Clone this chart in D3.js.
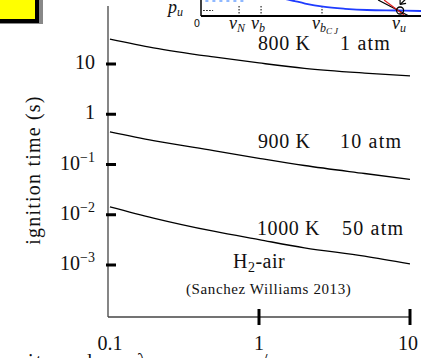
<!DOCTYPE html>
<html><head><meta charset="utf-8">
<script src="https://cdn.jsdelivr.net/npm/d3@7/dist/d3.min.js"></script>
<style>
html,body{margin:0;padding:0;background:#fff;overflow:hidden}
svg{display:block}
text{font-family:"Liberation Serif","DejaVu Serif",serif;fill:#111}
</style></head>
<body>
<script>
// ---------- data ----------
const pressureRatio = [0.103, 0.2, 0.5, 1, 2, 5, 10];
const tau800K = [31.4, 21.0, 13.8, 10.5, 8.2, 6.6, 5.8];
const tau900K = [0.448, 0.299, 0.189, 0.133, 0.0955, 0.0662, 0.0507];
const tau1000K = [0.0144, 0.0086, 0.0047, 0.0032, 0.0022, 0.0015, 0.00105];
const seriesTemps = ["800 K", "900 K", "1000 K"];
const seriesPress = ["1 atm", "10 atm", "50 atm"];
const xTicks = [0.1, 1, 10];
const xTickLabels = ["0.1", "1", "10"];
const yTicks = [10, 1, 0.1, 0.01, 0.001];
const yTickBase = ["10", "1", "10", "10", "10"];
const yTickExp = ["", "", "\u22121", "\u22122", "\u22123"];

// inset (Hugoniot schematic) data
const hugV = [0.359, 0.405, 0.473, 0.555, 0.655, 0.755, 0.905, 1.0];
const hugP = [3.27, 2.91, 2.27, 1.69, 1.31, 1.09, 1.0, 0.91];
const markV = [0.173, 0.273, 0.55];
const markNames = [["N",""], ["b",""], ["b","CJ"]];
const stateU = {v: 0.905, p: 1.0};

const W = 421, H = 358;
const svg = d3.select("body").append("svg").attr("width", W).attr("height", H);

// ---------- scales ----------
const x = d3.scaleLog().domain([0.1, 10]).range([108, 410]);
const y = d3.scaleLog().domain([0.001, 10]).range([265, 64]);
const axisTop = 6, axisBottom = 317;

// ---------- yellow box (top-left) ----------
svg.append("rect").attr("x", -10).attr("y", -10).attr("width", 53).attr("height", 34).attr("fill", "#888");
svg.append("rect").attr("x", -10).attr("y", -10).attr("width", 47).attr("height", 31)
  .attr("fill", "#ffff00").attr("stroke", "#000").attr("stroke-width", 4);

// ---------- inset ----------
const ix = d3.scaleLinear().domain([0, 1]).range([201, 421]);
const ip = d3.scaleLinear().domain([0, 1]).range([16, 10.5]);
const inset = svg.append("g");
inset.append("line").attr("x1", ix(0.02)).attr("x2", ix(0.2)).attr("y1", ip(2.73)).attr("y2", ip(2.73))
  .attr("stroke", "#8fb8ff").attr("stroke-width", 2).attr("stroke-dasharray", "3,4");
inset.append("line").attr("x1", ix(0.01)).attr("x2", ix(0.055)).attr("y1", ip(1)).attr("y2", ip(1))
  .attr("stroke", "#000").attr("stroke-width", 1).attr("stroke-dasharray", "1.5,1.5");
markV.forEach(v => {
  inset.append("line").attr("x1", ix(v)).attr("x2", ix(v)).attr("y1", ip(1.82)).attr("y2", ip(0))
    .attr("stroke", "#000").attr("stroke-width", 1).attr("stroke-dasharray", "1.5,1.5");
});
inset.append("path").datum(hugV.map((v, i) => [v, hugP[i]]))
  .attr("d", d3.line().x(d => ix(d[0])).y(d => ip(d[1])).curve(d3.curveMonotoneX))
  .attr("fill", "none").attr("stroke", "#1f3cff").attr("stroke-width", 1.8);
inset.append("line").attr("x1", ix(0.805)).attr("y1", ip(2.91)).attr("x2", ix(0.945)).attr("y2", ip(0))
  .attr("stroke", "#000").attr("stroke-width", 1.2);
inset.append("line").attr("x1", ix(0.832)).attr("y1", ip(2.91)).attr("x2", ix(0.923)).attr("y2", ip(0.18))
  .attr("stroke", "#e02020").attr("stroke-width", 1.2);
inset.append("line").attr("x1", ix(0.955)).attr("y1", ip(4.0)).attr("x2", ix(0.905)).attr("y2", ip(2.1))
  .attr("stroke", "#000").attr("stroke-width", 1.2);
inset.append("path").attr("d", `M${ix(0.905)},${ip(2.1)} l6,-1 M${ix(0.905)},${ip(2.1)} l0,-6`)
  .attr("stroke", "#000").attr("stroke-width", 1.2).attr("fill", "none");
inset.append("circle").attr("cx", ix(stateU.v)).attr("cy", ip(stateU.p)).attr("r", 3.5)
  .attr("fill", "none").attr("stroke", "#000").attr("stroke-width", 1.3);
inset.append("line").attr("x1", ix(0)).attr("x2", ix(0)).attr("y1", -2).attr("y2", ip(0)).attr("stroke", "#000").attr("stroke-width", 1.5);
inset.append("line").attr("x1", ix(0)).attr("x2", W + 2).attr("y1", ip(0)).attr("y2", ip(0)).attr("stroke", "#000").attr("stroke-width", 2);
inset.append("text").attr("x", ix(0) - 4).attr("y", 27).attr("text-anchor", "middle")
  .style("font-family", "'DejaVu Sans',sans-serif").style("font-size", "10px").text("0");
const pu = inset.append("text").attr("x", 168).attr("y", 13).style("font-style", "italic").style("font-size", "18px");
pu.append("tspan").text("p");
pu.append("tspan").attr("dy", 3).style("font-size", "12px").text("u");
markV.forEach((v, i) => {
  const t = inset.append("text").attr("x", ix(v) - 10).attr("y", 29).style("font-style", "italic").style("font-size", "18px");
  t.append("tspan").text("v");
  t.append("tspan").attr("dy", 3).style("font-size", "12px").text(markNames[i][0]);
  if (markNames[i][1]) t.append("tspan").attr("dy", 2).style("font-size", "9px").attr("letter-spacing", 2).text(markNames[i][1]);
});
const vu = inset.append("text").attr("x", ix(stateU.v) - 8).attr("y", 29).style("font-style", "italic").style("font-size", "18px");
vu.append("tspan").text("v");
vu.append("tspan").attr("dy", 3).style("font-size", "12px").text("u");

// ---------- axes ----------
const g = svg.append("g");
g.append("line").attr("x1", x(0.1)).attr("x2", x(0.1)).attr("y1", axisTop).attr("y2", axisBottom)
  .attr("stroke", "#444").attr("stroke-width", 1.3);
g.append("line").attr("x1", x(0.1)).attr("x2", x(10)).attr("y1", axisBottom).attr("y2", axisBottom)
  .attr("stroke", "#444").attr("stroke-width", 1.3);

yTicks.forEach((v, i) => {
  g.append("line").attr("x1", x(0.1) - 2).attr("x2", x(0.1) + 8).attr("y1", y(v)).attr("y2", y(v))
    .attr("stroke", "#000").attr("stroke-width", 3);
  const t = g.append("text").attr("x", 95).attr("y", y(v) + 5).attr("text-anchor", "end")
    .style("font-size", "20px");
  t.append("tspan").text(yTickBase[i]);
  if (yTickExp[i]) t.append("tspan").attr("dy", -8).style("font-size", "14px").text(yTickExp[i]);
});
xTicks.forEach((v, i) => {
  if (i > 0) g.append("line").attr("x1", x(v)).attr("x2", x(v)).attr("y1", axisBottom - 8).attr("y2", axisBottom + 8)
    .attr("stroke", "#000").attr("stroke-width", 3);
  g.append("text").attr("x", x(v) + (i === 0 ? 2 : (i === 2 ? -2 : 0))).attr("y", 350).attr("text-anchor", "middle")
    .style("font-size", "20px").text(xTickLabels[i]);
});

g.append("text").attr("transform", "translate(40,170) rotate(-90)").attr("text-anchor", "middle")
  .style("font-size", "20px").attr("letter-spacing", 1.2).text("ignition time (s)");

// clipped x axis title fragments at the very bottom
const frag = g.append("text").attr("y", 368).style("font-size", "20px");
[["i", 28], ["t", 36], ["d", 82], ["\u03bb", 137], ["/", 262]].forEach(f => {
  frag.append("tspan").attr("x", f[1]).text(f[0]);
});

// ---------- curves ----------
const line = d3.line().x(d => x(d[0])).y(d => y(d[1])).curve(d3.curveMonotoneX);
[tau800K, tau900K, tau1000K].forEach(s => {
  g.append("path").datum(pressureRatio.map((p, i) => [p, s[i]]))
    .attr("d", line).attr("fill", "none").attr("stroke", "#000").attr("stroke-width", 1.3);
});

// ---------- labels ----------
const labY = [50, 148, 235];
const labX1 = [258, 258, 257];
const labX2 = [340, 340, 342];
seriesTemps.forEach((s, i) => {
  g.append("text").attr("x", labX1[i]).attr("y", labY[i]).style("font-size", "20px").attr("letter-spacing", 0.6).text(s);
  g.append("text").attr("x", labX2[i]).attr("y", labY[i]).style("font-size", "20px").attr("letter-spacing", 1.2).text(seriesPress[i]);
});
const h2 = g.append("text").attr("x", 233).attr("y", 268).style("font-size", "20px").attr("letter-spacing", 0.5);
h2.append("tspan").text("H");
h2.append("tspan").attr("dy", 4).style("font-size", "14px").text("2");
h2.append("tspan").attr("dy", -4).text("-air");
g.append("text").attr("x", 186).attr("y", 294).style("font-size", "15px").attr("letter-spacing", 0.6)
  .text("(Sanchez Williams 2013)");
</script>
</body></html>
